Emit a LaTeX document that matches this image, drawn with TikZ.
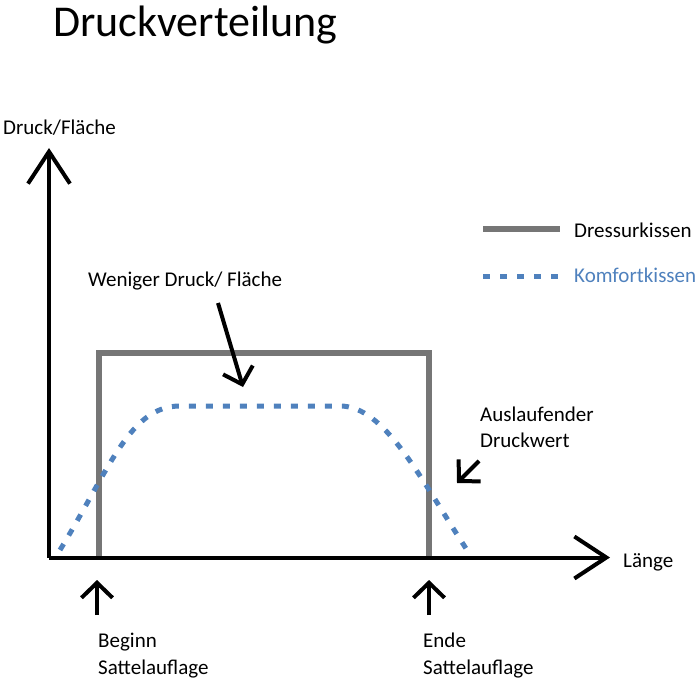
\documentclass[tikz,border=0pt]{standalone}
\usepackage{fontspec}
\setmainfont{Carlito}
\usetikzlibrary{arrows.meta}
\definecolor{dgray}{HTML}{767676}
\definecolor{kblue}{HTML}{4F81BD}
\begin{document}
\begin{tikzpicture}[x=1pt,y=-1pt,
  lbl/.style={anchor=base west,inner sep=0pt,font=\fontsize{21}{25}\selectfont},
  axisline/.style={line width=4pt,-{Straight Barb[length=32pt,width=42pt]}},
  ptr/.style={line width=4pt,-{Straight Barb[length=15pt,width=31pt]}},
  dress/.style={draw=dgray,line width=6.5pt},
  komf/.style={draw=kblue,line width=5pt,dash pattern=on 7pt off 10pt}]
\useasboundingbox (0,0) rectangle (700,679);

% title
\node[anchor=base west,inner sep=0pt,font=\fontsize{44}{50}\selectfont] (title) at (53,37) {Druckverteilung};

% Dressurkissen curve (rectangle)
\coordinate (r1) at (99,557);
\coordinate (r2) at (99,353);
\coordinate (r3) at (429,353);
\coordinate (r4) at (429,557);
\draw[dress] (r1) -- (r2) -- (r3) -- (r4);

% Komfortkissen curve
\coordinate (k0) at (60,550);
\coordinate (k1) at (180,406);
\coordinate (k2) at (340,406);
\coordinate (k3) at (467,550);
\draw[komf] (k0) .. controls (110,468) and (130,406) .. (k1) -- (k2)
  .. controls (385,406) and (420,478) .. (k3);

% axes
\coordinate (o) at (49,557.5);
\coordinate (ytip) at (49,148);
\coordinate (xtip) at (610,557.5);
\draw[axisline] (o) -- (ytip);
\draw[axisline] (o) -- (xtip);
\node[lbl] (ylab) at (3,135) {Druck/Fläche};
\node[lbl] (xlab) at (623,567) {Länge};

% legend
\coordinate (l1a) at (483,229);
\coordinate (l1b) at (560,229);
\coordinate (l2a) at (483,276);
\coordinate (l2b) at (560,276);
\draw[dress] (l1a) -- (l1b);
\draw[komf] (l2a) -- (l2b);
\node[lbl] (leg1) at (574,237) {Dressurkissen};
\node[lbl,text=kblue] (leg2) at (574,282) {Komfortkissen};

% annotations
\node[lbl] (wen) at (88,286) {Weniger Druck/ Fläche};
\coordinate (wa) at (218,303);
\coordinate (wb) at (243,387);
\draw[ptr] (wa) -- (wb);

\node[lbl] (aus1) at (480,421) {Auslaufender};
\node[lbl] (aus2) at (480,447) {Druckwert};
\coordinate (aa) at (479,461);
\coordinate (ab) at (457,483);
\draw[ptr] (aa) -- (ab);

\coordinate (ba) at (97,615);
\coordinate (bb) at (97,580);
\draw[ptr] (ba) -- (bb);
\node[lbl] (beg1) at (98,647) {Beginn};
\node[lbl] (beg2) at (98,674) {Sattelauflage};

\coordinate (ea) at (429,615);
\coordinate (eb) at (429,580);
\draw[ptr] (ea) -- (eb);
\node[lbl] (end1) at (423,647) {Ende};
\node[lbl] (end2) at (423,674) {Sattelauflage};
\end{tikzpicture}
\end{document}
